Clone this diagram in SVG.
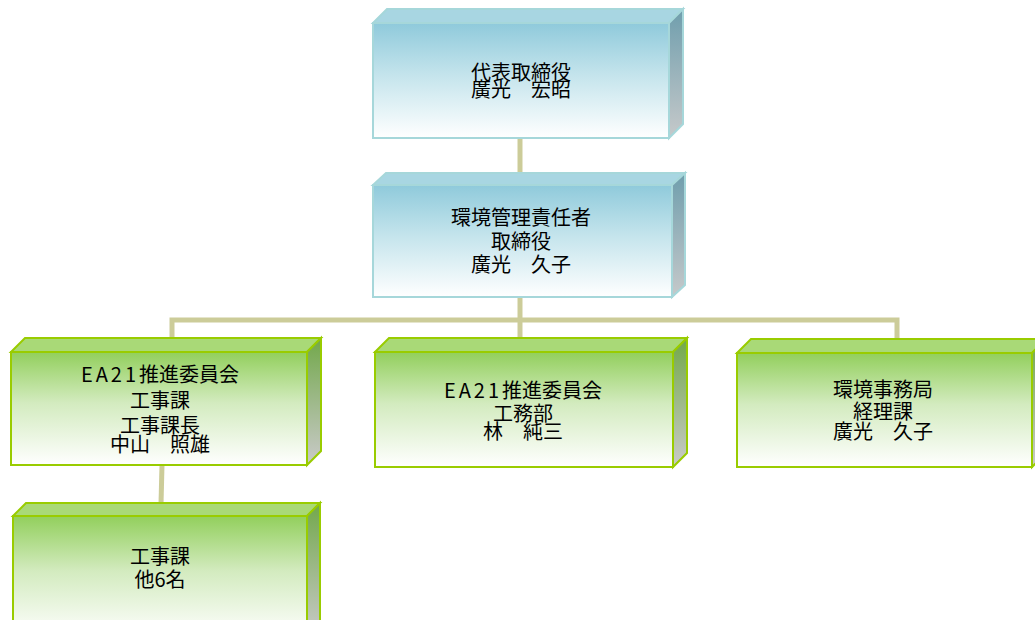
<svg xmlns="http://www.w3.org/2000/svg" width="1035" height="620" viewBox="0 0 1035 620">
<defs>
<linearGradient id="bFront" x1="0" y1="0" x2="0" y2="1"><stop offset="0" stop-color="#8fcadb"/><stop offset="0.45" stop-color="#c4e4ec"/><stop offset="1" stop-color="#ffffff"/></linearGradient>
<linearGradient id="bSide" x1="0" y1="0" x2="0" y2="1"><stop offset="0" stop-color="#6f9ead"/><stop offset="1" stop-color="#c6c9ca"/></linearGradient>
<linearGradient id="gFront" x1="0" y1="0" x2="0" y2="1"><stop offset="0" stop-color="#92cf5c"/><stop offset="0.45" stop-color="#d3ebbf"/><stop offset="1" stop-color="#ffffff"/></linearGradient>
<linearGradient id="gSide" x1="0" y1="0" x2="0" y2="1"><stop offset="0" stop-color="#72a84a"/><stop offset="1" stop-color="#cacaca"/></linearGradient>
<style>
.bf{fill:url(#bFront);stroke:#a6d7da;stroke-width:2}
.bt{fill:#a8d6e2;stroke:#a6d7da;stroke-width:2}
.bs{fill:url(#bSide);stroke:#a6d7da;stroke-width:2}
.gf{fill:url(#gFront);stroke:#99cc00;stroke-width:2}
.gt{fill:#a9d977;stroke:#99cc00;stroke-width:2}
.gs{fill:url(#gSide);stroke:#99cc00;stroke-width:2}
.c{stroke:#cccc99;stroke-width:5;fill:none}
text{font-family:"Noto Sans CJK JP","Noto Sans",sans-serif;font-size:20px;fill:#000;text-anchor:middle}
.ea{letter-spacing:3px}
</style>
</defs>
<g id="connectors">
<path class="c" d="M520,138 V174"/>
<path class="c" d="M520,297 V339"/>
<path class="c" d="M172,339 V320 H897 V340"/>
<path class="c" d="M162,465 L161,504"/>
</g>
<g id="node-ceo">
<polygon class="bt" points="373,23 387,9 683,9 669,23"/>
<polygon class="bs" points="669,23 683,9 683,124 669,138"/>
<rect class="bf" x="373" y="23" width="296" height="115"/>
<text x="521" y="80">代表取締役</text>
<text x="521" y="97">廣光　宏昭</text>
</g>
<g id="node-env-manager">
<polygon class="bt" points="373,185 386,173 685,173 672,185"/>
<polygon class="bs" points="672,185 685,173 685,285 672,297"/>
<rect class="bf" x="373" y="185" width="299" height="112"/>
<text x="521" y="225">環境管理責任者</text>
<text x="521" y="249">取締役</text>
<text x="521" y="272">廣光　久子</text>
</g>
<g id="node-koujika">
<polygon class="gt" points="11,352 25,338 321,338 307,352"/>
<polygon class="gs" points="307,352 321,338 321,451 307,465"/>
<rect class="gf" x="11" y="352" width="296" height="113"/>
<text x="160" y="382"><tspan class="ea">EA21</tspan>推進委員会</text>
<text x="160" y="408">工事課</text>
<text x="160" y="433">工事課長</text>
<text x="160" y="452">中山　照雄</text>
</g>
<g id="node-koumubu">
<polygon class="gt" points="375,352 389,338 687,338 673,352"/>
<polygon class="gs" points="673,352 687,338 687,453 673,467"/>
<rect class="gf" x="375" y="352" width="298" height="115"/>
<text x="523" y="398"><tspan class="ea">EA21</tspan>推進委員会</text>
<text x="523" y="421">工務部</text>
<text x="523" y="439">林　純三</text>
</g>
<g id="node-jimukyoku">
<polygon class="gt" points="737,353 751,339 1046,339 1032,353"/>
<polygon class="gs" points="1032,353 1046,339 1046,453 1032,467"/>
<rect class="gf" x="737" y="353" width="295" height="114"/>
<text x="883" y="397">環境事務局</text>
<text x="883" y="419">経理課</text>
<text x="883" y="439">廣光　久子</text>
</g>
<g id="node-staff">
<polygon class="gt" points="13,516 26,503 320,503 307,516"/>
<polygon class="gs" points="307,516 320,503 320,625 307,638"/>
<rect class="gf" x="13" y="516" width="294" height="122"/>
<text x="160" y="564">工事課</text>
<text x="160" y="587">他6名</text>
</g>
</svg>
